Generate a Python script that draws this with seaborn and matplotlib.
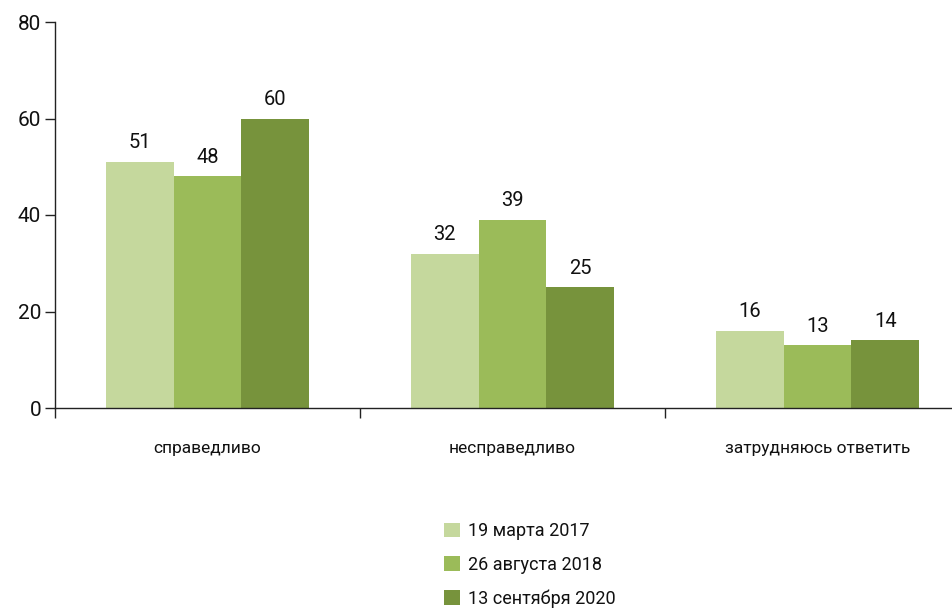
import matplotlib
matplotlib.use("Agg")
import matplotlib.pyplot as plt
import seaborn as sns
import pandas as pd
from matplotlib.patches import Patch
from matplotlib.ticker import FixedLocator

categories = ["справедливо", "несправедливо", "затрудняюсь ответить"]
series_names = ["19 марта 2017", "26 августа 2018", "13 сентября 2020"]
values_2017 = [51, 32, 16]
values_2018 = [48, 39, 13]
values_2020 = [60, 25, 14]
colors = ["#c5d89d", "#9bbb59", "#77933c"]
y_ticks = [0, 20, 40, 60, 80]

rows = []
for name, vals in zip(series_names, [values_2017, values_2018, values_2020]):
    for c, v in zip(categories, vals):
        rows.append({"cat": c, "series": name, "value": v})
df = pd.DataFrame(rows)

sns.set_style("white")
plt.rcParams["font.family"] = ["Roboto", "DejaVu Sans"]
plt.rcParams["text.color"] = "#111111"
plt.rcParams["xtick.color"] = "#111111"
plt.rcParams["ytick.color"] = "#111111"

W, H = 953, 609
fig = plt.figure(figsize=(W / 100, H / 100), dpi=100)
ax = fig.add_axes([55 / W, (H - 408) / H, 915 / W, 386 / H])

sns.barplot(data=df, x="cat", y="value", hue="series", order=categories,
            hue_order=series_names, palette=colors, width=0.667, gap=0,
            saturation=1, ax=ax, legend=False, errorbar=None, linewidth=0)

for cont in ax.containers:
    ax.bar_label(cont, fmt="%d", padding=7, fontsize=14.5, color="#111111")

ax.set_xlim(-0.5, 2.5)
ax.set_ylim(0, 80)
ax.set_yticks(y_ticks)
ax.set_xlabel("")
ax.set_ylabel("")
ax.set_xticks([-0.5, 0.5, 1.5, 2.5])
ax.set_xticklabels([])
ax.xaxis.set_minor_locator(FixedLocator([0, 1, 2]))
ax.set_xticklabels(categories, minor=True)
ax.tick_params(axis="x", which="major", direction="out", length=7, width=1, color="#222222", bottom=True)
ax.tick_params(axis="x", which="minor", length=0, pad=24, labelsize=12.5)
ax.tick_params(axis="y", direction="out", length=7, width=1, color="#222222", left=True, labelsize=15, pad=3)

for s in ["top", "right"]:
    ax.spines[s].set_visible(False)
for s in ["left", "bottom"]:
    ax.spines[s].set_color("#222222")
    ax.spines[s].set_linewidth(1)

handles = [Patch(facecolor=c, edgecolor="none") for c in colors]
fig.legend(handles, series_names, loc="upper left",
           bbox_to_anchor=(437 / W, 1 - 515 / H), frameon=False,
           fontsize=13, handlelength=0.85, handleheight=0.85,
           handletextpad=0.45, labelspacing=0.86, borderaxespad=0)

fig.savefig("out.png", dpi=100)
